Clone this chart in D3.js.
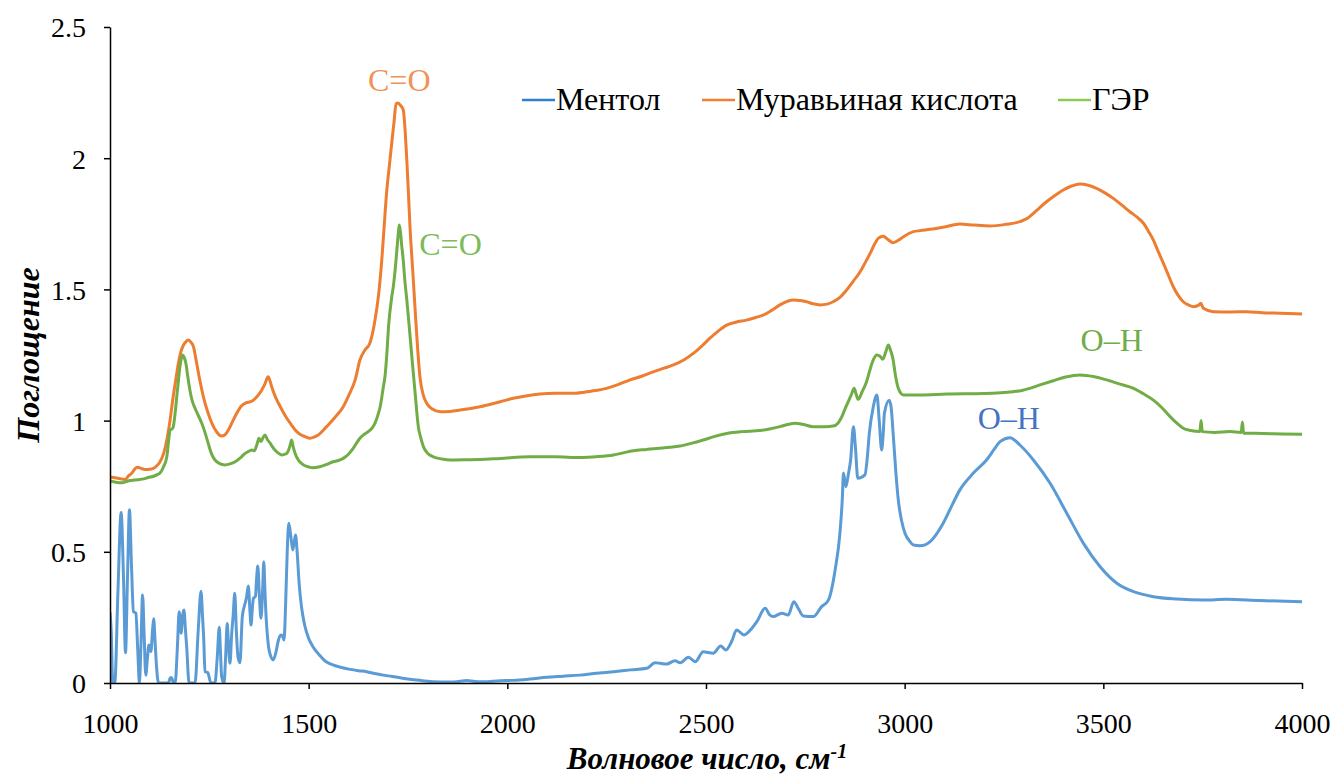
<!DOCTYPE html>
<html>
<head>
<meta charset="utf-8">
<script src="https://cdn.jsdelivr.net/npm/d3@7"></script>
<style>
  html, body { margin: 0; padding: 0; background: #fff; }
  svg { display: block; }
</style>
</head>
<body>
<svg id="chart" width="1335" height="776" font-family="'Liberation Serif', 'DejaVu Serif', serif"></svg>
<script>
// IR absorption spectra: wavenumber (cm-1) vs absorbance
const seriesNames = ["Ментол", "Муравьиная кислота", "ГЭР"];
const seriesColors = ["#5B9BD5", "#ED7D31", "#70AD47"];
const legendColors = ["#2F80D2", "#F08032", "#8CCB52"];
const fontFamily = "'Liberation Serif', 'DejaVu Serif', serif";

const xTicks = [1000, 1500, 2000, 2500, 3000, 3500, 4000];
const yTicks = [0, 0.5, 1, 1.5, 2, 2.5];

const menthol = [
  [1000,0.27],[1003,0.2],[1007,0],[1012,0],[1020,0.35],[1028,0.65],[1034,0.4],[1039,0.115],[1044,0.4],
  [1049,0.66],[1054,0.45],[1059,0.272],[1065,0.266],[1070,0.12],[1074,0],[1078,0.15],[1082,0.335],
  [1086,0.18],[1090,0.03],[1094,0.09],[1098,0.145],[1103,0.12],[1107,0.2],[1110,0.245],[1113,0.17],
  [1116,0.088],[1122,0],[1147,0],[1152,0.02],[1155,0.02],[1160,0],[1164,0],[1170,0.15],[1174,0.272],
  [1179,0.19],[1183,0.26],[1186,0.278],[1190,0.2],[1193,0.138],[1199,0],[1214,0],[1222,0.2],[1229,0.35],
  [1233,0.25],[1236,0.164],[1239,0.043],[1246,0.04],[1254,0],[1264,0],[1270,0.1],[1275,0.212],[1278,0.12],
  [1281,0.024],[1287,0],[1291,0.1],[1295,0.227],[1298,0.15],[1302,0.075],[1306,0.18],[1310,0.259],
  [1314,0.342],[1318,0.2],[1322,0.1],[1327,0.077],[1333,0.253],[1340,0.304],[1344,0.33],[1348,0.37],
  [1352,0.28],[1355,0.221],[1358,0.28],[1361,0.323],[1366,0.33],[1369,0.4],[1372,0.446],[1376,0.33],
  [1380,0.247],[1384,0.35],[1387,0.462],[1390,0.35],[1392,0.278],[1398,0.151],[1405,0.1],[1411,0.088],
  [1418,0.12],[1424,0.164],[1430,0.183],[1434,0.18],[1438,0.164],[1442,0.3],[1446,0.5],[1450,0.609],
  [1455,0.56],[1460,0.507],[1464,0.54],[1467,0.564],[1471,0.5],[1476,0.38],[1482,0.29],[1490,0.22],
  [1500,0.17],[1510,0.14],[1528,0.105],[1545,0.08],[1561,0.069],[1580,0.06],[1604,0.052],[1625,0.047],
  [1646,0.043],[1666,0.036],[1687,0.03],[1710,0.025],[1730,0.02],[1750,0.015],[1772,0.011],[1792,0.008],
  [1813,0.005],[1856,0.004],[1878,0.006],[1898,0.01],[1918,0.006],[1939,0.005],[1982,0.009],[2015,0.01],
  [2057,0.015],[2099,0.022],[2140,0.026],[2183,0.03],[2225,0.037],[2267,0.043],[2310,0.05],[2351,0.056],
  [2372,0.077],[2385,0.075],[2401,0.072],[2422,0.085],[2435,0.077],[2456,0.098],[2473,0.081],[2493,0.119],
  [2518,0.113],[2537,0.141],[2550,0.126],[2565,0.16],[2577,0.202],[2596,0.183],[2615,0.208],[2628,0.234],
  [2649,0.285],[2660,0.26],[2669,0.253],[2691,0.266],[2707,0.259],[2721,0.31],[2732,0.285],[2745,0.255],
  [2770,0.253],[2791,0.291],[2808,0.316],[2825,0.431],[2837,0.57],[2843,0.7],[2846,0.8],[2852,0.748],
  [2858,0.793],[2864,0.85],[2871,0.977],[2876,0.9],[2882,0.78],[2900,0.793],[2906,0.86],[2911,0.951],
  [2921,1.053],[2930,1.098],[2936,1.0],[2942,0.888],[2946,0.95],[2949,1.028],[2961,1.078],[2966,1.05],
  [2971,0.951],[2978,0.8],[2984,0.697],[2992,0.62],[3001,0.57],[3013,0.54],[3022,0.526],[3039,0.523],
  [3064,0.539],[3097,0.609],[3120,0.68],[3139,0.736],[3173,0.8],[3206,0.85],[3225,0.89],[3240,0.92],
  [3265,0.935],[3290,0.907],[3324,0.85],[3366,0.761],[3408,0.647],[3450,0.532],[3492,0.443],[3534,0.38],
  [3576,0.348],[3626,0.329],[3685,0.32],[3752,0.316],[3810,0.319],[3894,0.314],[4000,0.31]
];

const formicAcid = [
  [1000,0.785],[1020,0.78],[1038,0.776],[1047,0.79],[1055,0.8],[1062,0.815],[1069,0.822],[1078,0.818],
  [1088,0.814],[1100,0.815],[1109,0.818],[1118,0.828],[1126,0.843],[1135,0.875],[1143,0.926],[1151,1.0],
  [1159,1.091],[1166,1.16],[1172,1.218],[1178,1.26],[1185,1.288],[1192,1.302],[1197,1.307],[1203,1.3],
  [1210,1.282],[1218,1.22],[1226,1.155],[1236,1.085],[1247,1.028],[1258,0.985],[1268,0.958],[1275,0.945],
  [1281,0.941],[1289,0.945],[1298,0.964],[1308,0.995],[1319,1.028],[1330,1.055],[1342,1.068],[1354,1.072],
  [1361,1.078],[1372,1.095],[1382,1.117],[1390,1.14],[1398,1.167],[1403,1.15],[1407,1.129],[1415,1.095],
  [1424,1.066],[1435,1.035],[1445,1.009],[1456,0.985],[1466,0.964],[1478,0.948],[1491,0.939],[1503,0.933],
  [1515,0.938],[1524,0.945],[1545,0.977],[1565,1.01],[1587,1.053],[1602,1.1],[1617,1.155],[1629,1.231],
  [1642,1.27],[1654,1.295],[1667,1.383],[1676,1.48],[1684,1.612],[1690,1.74],[1696,1.866],[1703,1.97],
  [1709,2.057],[1715,2.14],[1720,2.209],[1725,2.21],[1730,2.203],[1738,2.184],[1743,2.1],[1747,1.993],
  [1751,1.87],[1755,1.739],[1762,1.57],[1768,1.421],[1774,1.28],[1780,1.167],[1788,1.1],[1797,1.066],
  [1810,1.045],[1831,1.034],[1856,1.035],[1881,1.04],[1931,1.053],[1982,1.072],[2015,1.085],[2050,1.095],
  [2082,1.101],[2120,1.104],[2166,1.104],[2210,1.112],[2250,1.123],[2280,1.138],[2309,1.155],[2340,1.17],
  [2367,1.186],[2395,1.2],[2418,1.212],[2445,1.232],[2468,1.256],[2490,1.285],[2510,1.314],[2530,1.34],
  [2552,1.364],[2575,1.375],[2602,1.383],[2625,1.393],[2644,1.402],[2665,1.42],[2686,1.441],[2705,1.455],
  [2720,1.46],[2737,1.458],[2753,1.453],[2770,1.445],[2787,1.441],[2805,1.444],[2820,1.453],[2837,1.47],
  [2854,1.498],[2870,1.53],[2888,1.567],[2900,1.6],[2913,1.637],[2925,1.675],[2934,1.695],[2946,1.703],
  [2958,1.69],[2971,1.678],[2985,1.688],[2997,1.701],[3022,1.72],[3039,1.724],[3064,1.729],[3100,1.738],
  [3139,1.749],[3175,1.745],[3215,1.742],[3255,1.748],[3290,1.758],[3310,1.772],[3324,1.79],[3340,1.812],
  [3357,1.834],[3378,1.858],[3399,1.879],[3420,1.894],[3441,1.902],[3462,1.897],[3483,1.885],[3505,1.867],
  [3525,1.847],[3546,1.822],[3567,1.796],[3585,1.775],[3601,1.752],[3614,1.72],[3626,1.688],[3638,1.645],
  [3651,1.6],[3664,1.553],[3676,1.51],[3688,1.478],[3701,1.453],[3715,1.44],[3727,1.434],[3740,1.44],
  [3745,1.447],[3752,1.428],[3777,1.415],[3820,1.414],[3861,1.415],[3900,1.411],[3945,1.409],[4000,1.406]
];

const gerMixture = [
  [1000,0.77],[1015,0.765],[1030,0.763],[1045,0.77],[1055,0.772],[1070,0.775],[1085,0.778],[1096,0.783],
  [1110,0.788],[1120,0.795],[1126,0.8],[1135,0.825],[1143,0.862],[1148,0.93],[1151,0.964],[1156,0.968],
  [1159,0.975],[1164,1.03],[1168,1.091],[1172,1.15],[1176,1.205],[1180,1.24],[1183,1.25],[1187,1.24],
  [1191,1.218],[1196,1.165],[1201,1.117],[1207,1.075],[1214,1.047],[1222,1.02],[1231,0.99],[1239,0.955],
  [1247,0.914],[1255,0.875],[1264,0.85],[1276,0.836],[1289,0.831],[1302,0.835],[1315,0.843],[1328,0.858],
  [1340,0.875],[1350,0.884],[1357,0.888],[1363,0.885],[1369,0.905],[1375,0.933],[1380,0.92],[1385,0.935],
  [1390,0.945],[1396,0.928],[1403,0.914],[1409,0.9],[1415,0.888],[1424,0.876],[1432,0.869],[1440,0.872],
  [1445,0.875],[1450,0.89],[1454,0.91],[1457,0.926],[1461,0.9],[1466,0.875],[1474,0.85],[1482,0.837],
  [1491,0.828],[1499,0.824],[1510,0.82],[1528,0.824],[1545,0.833],[1562,0.843],[1575,0.848],[1587,0.856],
  [1600,0.872],[1612,0.894],[1620,0.913],[1629,0.933],[1640,0.948],[1650,0.958],[1660,0.972],[1667,0.99],
  [1674,1.02],[1680,1.053],[1688,1.129],[1692,1.167],[1697,1.26],[1701,1.358],[1709,1.47],[1713,1.51],
  [1718,1.58],[1722,1.65],[1726,1.72],[1728,1.745],[1731,1.72],[1734,1.67],[1738,1.612],[1742,1.535],
  [1747,1.46],[1753,1.36],[1759,1.256],[1764,1.17],[1768,1.104],[1772,1.035],[1776,0.977],[1782,0.935],
  [1789,0.9],[1800,0.875],[1814,0.862],[1835,0.854],[1856,0.85],[1900,0.851],[1931,0.852],[1982,0.856],
  [2057,0.862],[2120,0.862],[2183,0.859],[2230,0.863],[2267,0.869],[2317,0.885],[2350,0.89],[2376,0.894],
  [2410,0.898],[2435,0.903],[2465,0.914],[2493,0.926],[2520,0.939],[2552,0.951],[2590,0.958],[2636,0.962],
  [2660,0.968],[2686,0.977],[2705,0.985],[2724,0.99],[2745,0.985],[2770,0.977],[2800,0.977],[2820,0.979],
  [2832,0.99],[2842,1.015],[2850,1.045],[2858,1.072],[2866,1.1],[2873,1.123],[2878,1.1],[2883,1.081],
  [2893,1.11],[2904,1.148],[2912,1.19],[2921,1.231],[2930,1.25],[2938,1.245],[2945,1.234],[2952,1.26],
  [2959,1.288],[2964,1.27],[2971,1.231],[2977,1.17],[2984,1.123],[2990,1.105],[2997,1.098],[3039,1.098],
  [3106,1.101],[3200,1.103],[3273,1.11],[3295,1.115],[3315,1.123],[3345,1.138],[3374,1.152],[3405,1.166],
  [3441,1.174],[3475,1.168],[3508,1.155],[3540,1.14],[3576,1.123],[3600,1.103],[3626,1.078],[3648,1.048],
  [3668,1.015],[3685,0.99],[3701,0.971],[3720,0.962],[3743,0.958],[3746,1.0],[3749,0.958],[3780,0.955],
  [3819,0.958],[3847,0.955],[3850,0.995],[3853,0.952],[3903,0.951],[3950,0.949],[4000,0.948]
];

// Band labels: wavenumber / absorbance anchor of each label and its series colour
const bandLabels = [
  { text: "C=O", w: 1728, a: 2.258, color: "#F29256" },
  { text: "C=O", w: 1857, a: 1.63, color: "#7DBA5B" },
  { text: "O\u2013H", w: 3262, a: 0.968, color: "#4472C4" },
  { text: "O\u2013H", w: 3521, a: 1.264, color: "#70AD47" }
];

const svg = d3.select("#chart");
const margin = { left: 110, right: 33, top: 27, bottom: 93 };
const width = 1335, height = 776;

const x = d3.scaleLinear().domain([1000, 4000]).range([margin.left, width - margin.right]);
const y = d3.scaleLinear().domain([0, 2.5]).range([height - margin.bottom, margin.top]);

svg.append("clipPath").attr("id", "plotClip")
  .append("rect")
  .attr("x", margin.left).attr("y", margin.top - 5)
  .attr("width", width - margin.left - margin.right)
  .attr("height", height - margin.top - margin.bottom + 5);

const line = d3.line()
  .x(d => x(d[0]))
  .y(d => y(d[1]))
  .curve(d3.curveMonotoneX);

const allSeries = [menthol, formicAcid, gerMixture];
const plot = svg.append("g").attr("clip-path", "url(#plotClip)");
// draw order: menthol, formic acid, then the mixture on top
allSeries.forEach((data, i) => {
  plot.append("path")
    .datum(data)
    .attr("fill", "none")
    .attr("stroke", seriesColors[i])
    .attr("stroke-width", 3)
    .attr("stroke-linejoin", "round")
    .attr("d", line);
});

// Axes
const xAxis = d3.axisBottom(x).tickValues(xTicks).tickSize(6).tickSizeOuter(0).tickFormat(d3.format("d"));
const yAxis = d3.axisLeft(y).tickValues(yTicks).tickSize(6).tickSizeOuter(0).tickFormat(d => String(d));

const gx = svg.append("g").attr("transform", `translate(0,${y(0)})`).call(xAxis);
const gy = svg.append("g").attr("transform", `translate(${x(1000)},0)`).call(yAxis);

[gx, gy].forEach(g => {
  g.attr("font-family", fontFamily).attr("font-size", 28);
  g.select(".domain").attr("stroke", "#000").attr("stroke-width", 1.5);
  g.selectAll(".tick line").attr("stroke", "#000").attr("stroke-width", 1.5);
  g.selectAll(".tick text").attr("fill", "#000").attr("font-family", fontFamily);
});
gx.selectAll(".tick text").attr("dy", "1.45em");
gy.selectAll(".tick text").attr("x", -24).attr("dy", "0.35em");

// Axis titles
const xTitle = svg.append("text")
  .attr("x", (x(1000) + x(4000)) / 2 + 1)
  .attr("y", 769)
  .attr("text-anchor", "middle")
  .attr("font-family", fontFamily)
  .attr("font-size", 31)
  .attr("font-weight", "bold")
  .attr("font-style", "italic");
xTitle.append("tspan").text("Волновое число, см");
xTitle.append("tspan").attr("dy", -11).attr("font-size", 20).text("-1");

svg.append("text")
  .attr("transform", `translate(39,${(y(0) + y(2.5)) / 2}) rotate(-90)`)
  .attr("text-anchor", "middle")
  .attr("font-family", fontFamily)
  .attr("font-size", 32)
  .attr("font-weight", "bold")
  .attr("font-style", "italic")
  .text("Поглощение");

// Band labels
svg.append("g").selectAll("text")
  .data(bandLabels)
  .join("text")
  .attr("x", d => x(d.w))
  .attr("y", d => y(d.a))
  .attr("text-anchor", "middle")
  .attr("fill", d => d.color)
  .attr("font-family", fontFamily)
  .attr("font-size", 32)
  .text(d => d.text);

// Legend
const legendX = [522, 702, 1058];
const legend = svg.append("g");
seriesNames.forEach((name, i) => {
  const g = legend.append("g").attr("transform", `translate(${legendX[i]},100)`);
  g.append("line")
    .attr("x1", 0).attr("x2", 33).attr("y1", 0).attr("y2", 0)
    .attr("stroke", legendColors[i]).attr("stroke-width", 2.5);
  g.append("text")
    .attr("x", 34).attr("y", 10)
    .attr("fill", "#000")
    .attr("font-family", fontFamily)
    .attr("font-size", 32)
    .text(name);
});
</script>
</body>
</html>
